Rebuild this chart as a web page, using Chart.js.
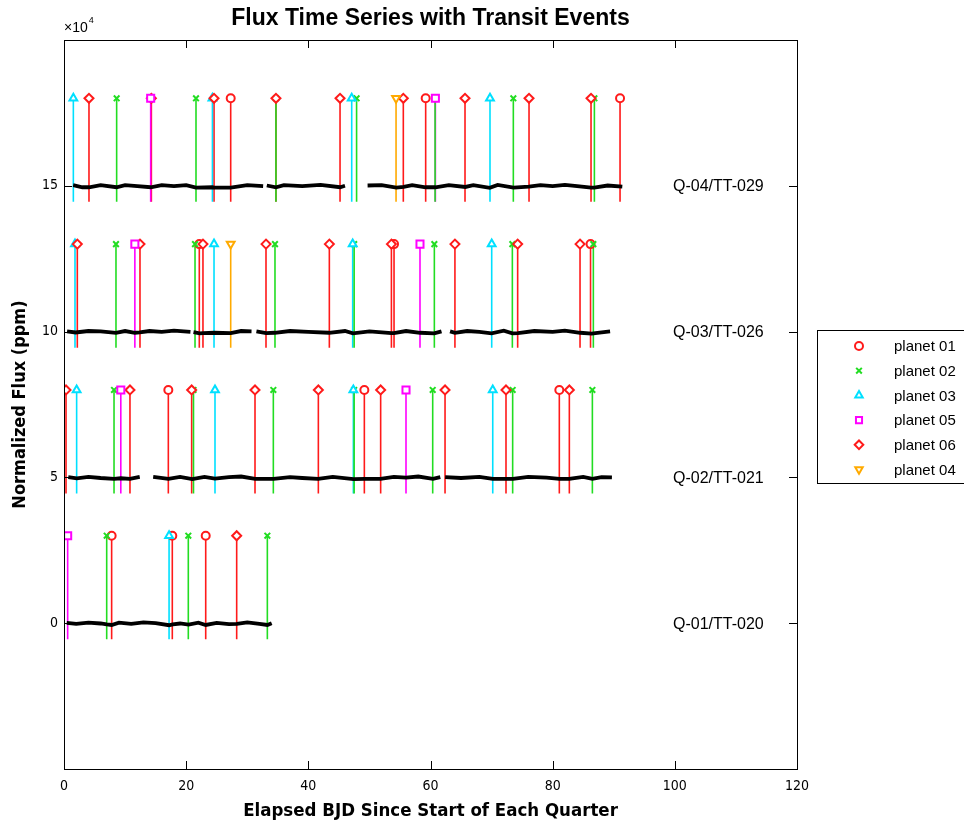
<!DOCTYPE html>
<html><head><meta charset="utf-8">
<script src="https://cdn.jsdelivr.net/npm/chart.js@4/dist/chart.umd.min.js"></script>
<style>html,body{margin:0;padding:0;background:#fff;}#wrap{width:964px;height:822px;}</style>
</head><body><div id="wrap"><canvas id="c" width="964" height="822"></canvas></div>
<script>
// ---- data ----
const quarterLabels = ['Q-01/TT-020', 'Q-02/TT-021', 'Q-03/TT-026', 'Q-04/TT-029'];
const quarterOffsets = [0, 5, 10, 15];           // x 10^4 ppm
const yTicks = [0, 5, 10, 15];
const planetNames = ['planet 01', 'planet 02', 'planet 03', 'planet 05', 'planet 06', 'planet 04'];

// transit times [quarterIndex, elapsed BJD]
const planet01 = [[0,7.8],[0,17.73],[0,23.2],[1,17.08],[1,49.17],[1,81.09],[2,22.15],[2,54.03],[2,86.2],[3,27.29],[3,59.21],[3,91.03]];
const planet02 = [[0,6.99],[0,20.35],[0,33.29],[1,8.19],[1,21.2],[1,34.27],[1,47.5],[1,60.36],[1,73.45],[1,86.5],
                  [2,8.51],[2,21.45],[2,34.54],[2,47.5],[2,60.63],[2,73.4],[2,86.66],[3,8.62],[3,21.61],[3,34.7],[3,47.9],[3,60.75],[3,73.56],[3,86.83]];
const planet03 = [[0,17.2],[1,2.07],[1,24.72],[1,47.37],[1,70.19],[2,1.8],[2,24.56],[2,47.26],[2,70.02],[3,1.53],[3,24.3],[3,47.1],[3,69.74]];
const planet05 = [[0,0.6],[1,9.3],[1,55.99],[2,11.6],[2,58.28],[3,14.19],[3,60.8]];
const planet06 = [[0,28.27],[1,0.33],[1,10.8],[1,20.9],[1,31.27],[1,41.64],[1,51.84],[1,62.38],[1,72.36],[1,82.73],
                  [2,2.18],[2,12.44],[2,22.75],[2,33.07],[2,43.44],[2,53.6],[2,64.0],[2,74.27],[2,84.48],
                  [3,4.09],[3,14.3],[3,24.56],[3,34.7],[3,45.19],[3,55.55],[3,65.65],[3,76.13],[3,86.28]];
const planet04 = [[2,27.29],[3,54.36]];

// flux time series per quarter (time, flux deviation x 10^4 ppm; null = data gap)
const fluxQ1T = [0.45,2,4,6,7.0,7.8,9,11,13,15,17.2,17.8,19,20.4,22,23.2,25,27,28.3,30,32,33.3,34.0];
const fluxQ1F = [0.01,-0.02,0.02,-0.01,-0.04,-0.06,0.02,-0.02,0.03,0.0,-0.07,-0.04,-0.01,-0.05,0.02,-0.06,0.01,-0.03,-0.02,0.03,-0.02,-0.06,0.0];
const fluxQ2T = [0.7,2.1,4,6,8.2,9.3,10.8,12.4,13.5,14.6,17.1,19,21,23,24.7,27,29,31.3,34.3,37,39,41.6,44,47.4,49.2,51.8,54,56,58,60.4,61.6,62.0,62.4,65,68,70.2,72.4,73.5,76,79,81.1,82.7,85,86.5,88,89.7];
const fluxQ2F = [0.01,-0.03,0.02,-0.02,-0.05,-0.03,-0.05,0.02,null,0.02,-0.05,0.02,-0.06,0.02,-0.04,0.01,0.03,-0.05,-0.05,0.01,-0.02,-0.05,0.02,-0.06,-0.05,-0.05,0.02,-0.01,0.03,-0.05,0.01,null,0.01,-0.02,0.02,-0.05,-0.05,-0.05,0.02,-0.01,-0.05,-0.05,0.02,-0.05,0.01,0.0];
const fluxQ3T = [0.5,1.9,4,6,8.5,10,11.6,12.4,14,16,18,20.7,21.0,21.2,22.2,22.8,24.6,27.3,29,30.7,31.1,31.5,33.1,34.5,37,40,43.4,46,47.3,50,53.6,54.0,56,58.3,60.6,61.8,62.5,63.2,64,66,68,70,72,73.4,74.3,77,80,82,84.5,86.4,87,89.4];
const fluxQ3F = [0.01,-0.03,0.02,0.01,-0.04,0.02,-0.04,-0.03,0.02,-0.01,0.03,-0.01,null,-0.02,-0.06,-0.05,-0.04,-0.05,0.02,0.01,null,0.01,-0.05,-0.04,0.02,-0.01,-0.04,0.02,-0.06,0.01,-0.05,-0.05,0.02,-0.04,-0.06,0.01,null,0.01,-0.04,0.02,-0.01,-0.06,0.03,-0.06,-0.05,0.02,-0.01,0.03,-0.04,-0.07,-0.05,0.01];
const fluxQ4T = [1.5,3,4.1,6,8.6,10,12,14.2,16,18,20,21.6,24.3,24.6,27.3,30,32.6,32.9,33.2,34.7,36,39,42,45.2,46.0,47.8,49.7,52,54.4,55.6,57,59.2,60.8,63,65.7,67,69.7,71,73.6,76.1,78,80,82,84,86.3,86.8,89,91.4];
const fluxQ4F = [0.02,-0.05,-0.05,0.02,-0.05,0.02,-0.01,-0.05,0.02,-0.01,0.02,-0.06,-0.05,-0.06,-0.06,0.02,-0.01,null,0.01,-0.05,0.02,-0.01,0.03,-0.05,0.0,null,0.01,0.02,-0.06,-0.04,0.02,-0.05,-0.05,0.02,-0.04,0.02,-0.07,0.03,-0.06,-0.03,0.02,-0.01,0.03,-0.01,-0.06,-0.06,0.01,-0.03];

const planetColors = ['#ff1a1a', '#22dd22', '#00e0ff', '#ff00ff', '#ff1a1a', '#ffaa00'];
const planetStyles = ['circle', 'crossRot', 'triangle', 'rect', 'rectRot', 'triangle'];
const planetRot = [0, 0, 0, 0, 0, 180];
const planetRadius = [4, 4, 4.5, 5, 4.5, 4.5];
const planetData = [planet01, planet02, planet03, planet05, planet06, planet04];

const stemLow = -0.55, markerLevel = 3;

// ---- datasets ----
const datasets = [];
planetData.forEach((arr, i) => {
  const stem = [];
  arr.forEach(([q, t]) => {
    stem.push({x: t, y: quarterOffsets[q] + stemLow});
    stem.push({x: t, y: quarterOffsets[q] + markerLevel});
    stem.push({x: t, y: null});
  });
  datasets.push({label: planetNames[i] + ' stem', data: stem, borderColor: planetColors[i], borderWidth: 1.6,
    pointRadius: 0, spanGaps: false, order: 30 + i, showLine: true});
});
[[fluxQ1T, fluxQ1F], [fluxQ2T, fluxQ2F], [fluxQ3T, fluxQ3F], [fluxQ4T, fluxQ4F]].forEach(([T, F], q) => {
  datasets.push({label: 'flux ' + quarterLabels[q], data: T.map((t, k) => ({x: t, y: F[k] === null ? null : quarterOffsets[q] + F[k]})),
    borderColor: '#000', borderWidth: 3.8, pointRadius: 0, spanGaps: false, order: 20, showLine: true});
});
const markerOrder = [15, 14, 13, 10, 12, 11];
planetData.forEach((arr, i) => {
  datasets.push({label: planetNames[i], data: arr.map(([q, t]) => ({x: t, y: quarterOffsets[q] + markerLevel})),
    showLine: false, pointStyle: planetStyles[i], pointRotation: planetRot[i], pointRadius: planetRadius[i],
    pointBorderWidth: 2, pointBorderColor: planetColors[i], pointBackgroundColor: '#ffffff', order: markerOrder[i]});
});

const FONT = 'Arial, "Liberation Sans", Helvetica, sans-serif';
const NARROW = '"Liberation Sans Narrow", "Arial Narrow", "DejaVu Sans Condensed", sans-serif';

function drawMarker(ctx, style, x, y, r, rot, color) {
  ctx.save();
  ctx.strokeStyle = color; ctx.fillStyle = '#fff'; ctx.lineWidth = 2;
  if (Chart.helpers && Chart.helpers.drawPoint) {
    Chart.helpers.drawPoint(ctx, {pointStyle: style, radius: r, rotation: rot, borderWidth: 2}, x, y);
  } else {
    ctx.beginPath(); ctx.arc(x, y, r, 0, Math.PI * 2); ctx.fill(); ctx.stroke();
  }
  ctx.restore();
}

const decor = {
  id: 'decor',
  afterDraw(chart) {
    const {ctx, chartArea: a, scales: {x, y}} = chart;
    ctx.save();
    // box
    ctx.strokeStyle = '#000'; ctx.lineWidth = 1;
    ctx.strokeRect(a.left + 0.5, a.top + 0.5, a.right - a.left, a.bottom - a.top);
    // inner ticks
    const tl = 8;
    ctx.beginPath();
    x.ticks.forEach(t => {
      const px = Math.round(x.getPixelForValue(t.value)) + 0.5;
      ctx.moveTo(px, a.bottom); ctx.lineTo(px, a.bottom - tl);
      ctx.moveTo(px, a.top); ctx.lineTo(px, a.top + tl);
    });
    y.ticks.forEach(t => {
      const py = Math.round(y.getPixelForValue(t.value)) + 0.5;
      ctx.moveTo(a.left, py); ctx.lineTo(a.left + tl, py);
      ctx.moveTo(a.right, py); ctx.lineTo(a.right - tl, py);
    });
    ctx.stroke();
    // quarter labels
    ctx.fillStyle = '#000'; ctx.font = '16px ' + FONT; ctx.textBaseline = 'middle'; ctx.textAlign = 'left';
    quarterLabels.forEach((s, q) => ctx.fillText(s, x.getPixelForValue(99.7), y.getPixelForValue(quarterOffsets[q]) + 1));
    // title
    ctx.font = 'bold 23px ' + FONT; ctx.textAlign = 'center';
    ctx.fillText('Flux Time Series with Transit Events', (a.left + a.right) / 2, 19);
    // exponent label
    ctx.font = '14px ' + FONT; ctx.textAlign = 'left';
    ctx.fillText('\u00d710', a.left, 28);
    const w = ctx.measureText('\u00d710').width;
    ctx.font = '9px ' + FONT; ctx.fillText('4', a.left + w + 1, 21);
    // legend
    const lx = 817, ly = 330, lw = 160, lh = 153;
    ctx.fillStyle = '#fff'; ctx.fillRect(lx, ly, lw, lh);
    ctx.strokeStyle = '#000'; ctx.lineWidth = 1; ctx.strokeRect(lx + 0.5, ly + 0.5, lw, lh);
    ctx.font = '15px ' + FONT; ctx.textAlign = 'left'; ctx.fillStyle = '#000';
    planetNames.forEach((n, i) => {
      const yy = 346 + i * 24.7;
      drawMarker(ctx, planetStyles[i], 859, yy, Math.min(planetRadius[i], 4.3), planetRot[i], planetColors[i]);
      ctx.fillStyle = '#000';
      ctx.fillText(n, 894, yy + 1);
    });
    ctx.restore();
  }
};

new Chart(document.getElementById('c'), {
  type: 'line',
  data: {datasets},
  options: {
    responsive: false, animation: false, devicePixelRatio: 1,
    layout: {padding: {top: 40, right: 167, bottom: 0, left: 0}},
    plugins: {legend: {display: false}, tooltip: {enabled: false}, title: {display: false}},
    scales: {
      x: {type: 'linear', min: 0, max: 120,
        ticks: {stepSize: 20, color: '#000', font: {size: 14, family: NARROW}, padding: 9, maxRotation: 0},
        grid: {display: false, drawTicks: false}, border: {display: false},
        title: {display: true, text: 'Elapsed BJD Since Start of Each Quarter', color: '#000',
          font: {size: 18.5, weight: 'bold', family: NARROW}, padding: {top: 0, bottom: 0}},
        afterFit: s => { s.height = 53; }},
      y: {type: 'linear', min: -5, max: 20,
        afterBuildTicks: s => { s.ticks = yTicks.map(v => ({value: v})); },
        ticks: {color: '#000', font: {size: 14, family: NARROW}, padding: 6},
        grid: {display: false, drawTicks: false}, border: {display: false},
        title: {display: true, text: 'Normalized Flux (ppm)', color: '#000',
          font: {size: 18, weight: 'bold', family: NARROW}, padding: {top: 10, bottom: 0}},
        afterFit: s => { s.width = 64; }}
    }
  },
  plugins: [decor]
});
</script></body></html>
